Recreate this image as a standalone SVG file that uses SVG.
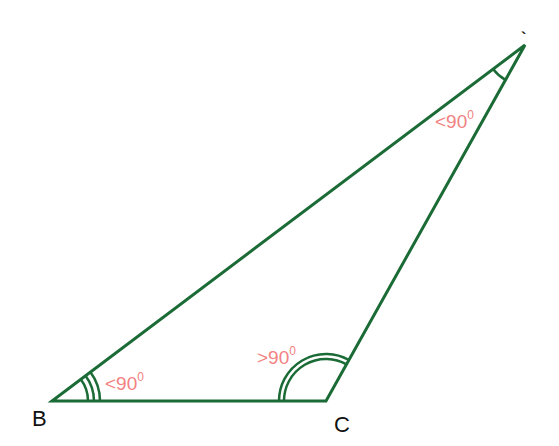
<svg xmlns="http://www.w3.org/2000/svg" width="559" height="446" viewBox="0 0 559 446">
<style>
.ln{fill:none;stroke:#1b6b36;stroke-width:3;stroke-linejoin:miter}
.arc{fill:none;stroke:#1b6b36;stroke-width:2.5}
.lbl{font-family:"Liberation Sans",Arial,sans-serif;font-size:19px;fill:#f28282}
.sup{font-size:12px}
.vx{font-family:"Liberation Sans",Arial,sans-serif;font-size:22px;fill:#111}
</style>
<rect width="559" height="446" fill="#fff"/>
<g id="connectors">
<path class="ln" d="M52,401 L326,401 L525,45 Z"/>
</g>
<g id="angle-B">
<path class="arc" d="M88,401 A36,36 0 0 0 80.75,379.3"/>
<path class="arc" d="M94,401 A42,42 0 0 0 85.54,375.73"/>
<path class="arc" d="M100,401 A48,48 0 0 0 90.33,372.12"/>
<text class="lbl" x="105" y="390">&lt;90<tspan class="sup" dy="-9">0</tspan></text>
<text class="vx" x="32" y="426">B</text>
</g>
<g id="angle-C">
<path class="arc" d="M279,401 A47,47 0 0 1 348.93,359.97"/>
<path class="arc" d="M284,401 A42,42 0 0 1 346.49,364.34"/>
<text class="lbl" x="257" y="364">&gt;90<tspan class="sup" dy="-9">0</tspan></text>
<text class="vx" x="334" y="432">C</text>
</g>
<g id="angle-A">
<path class="arc" d="M493.04,69.04 A40,40 0 0 0 505.48,79.92"/>
<text class="lbl" x="435" y="128">&lt;90<tspan class="sup" dy="-9">0</tspan></text>
<text class="vx" x="521" y="44" style="font-size:16px;font-weight:bold">`</text>
</g>
</svg>
